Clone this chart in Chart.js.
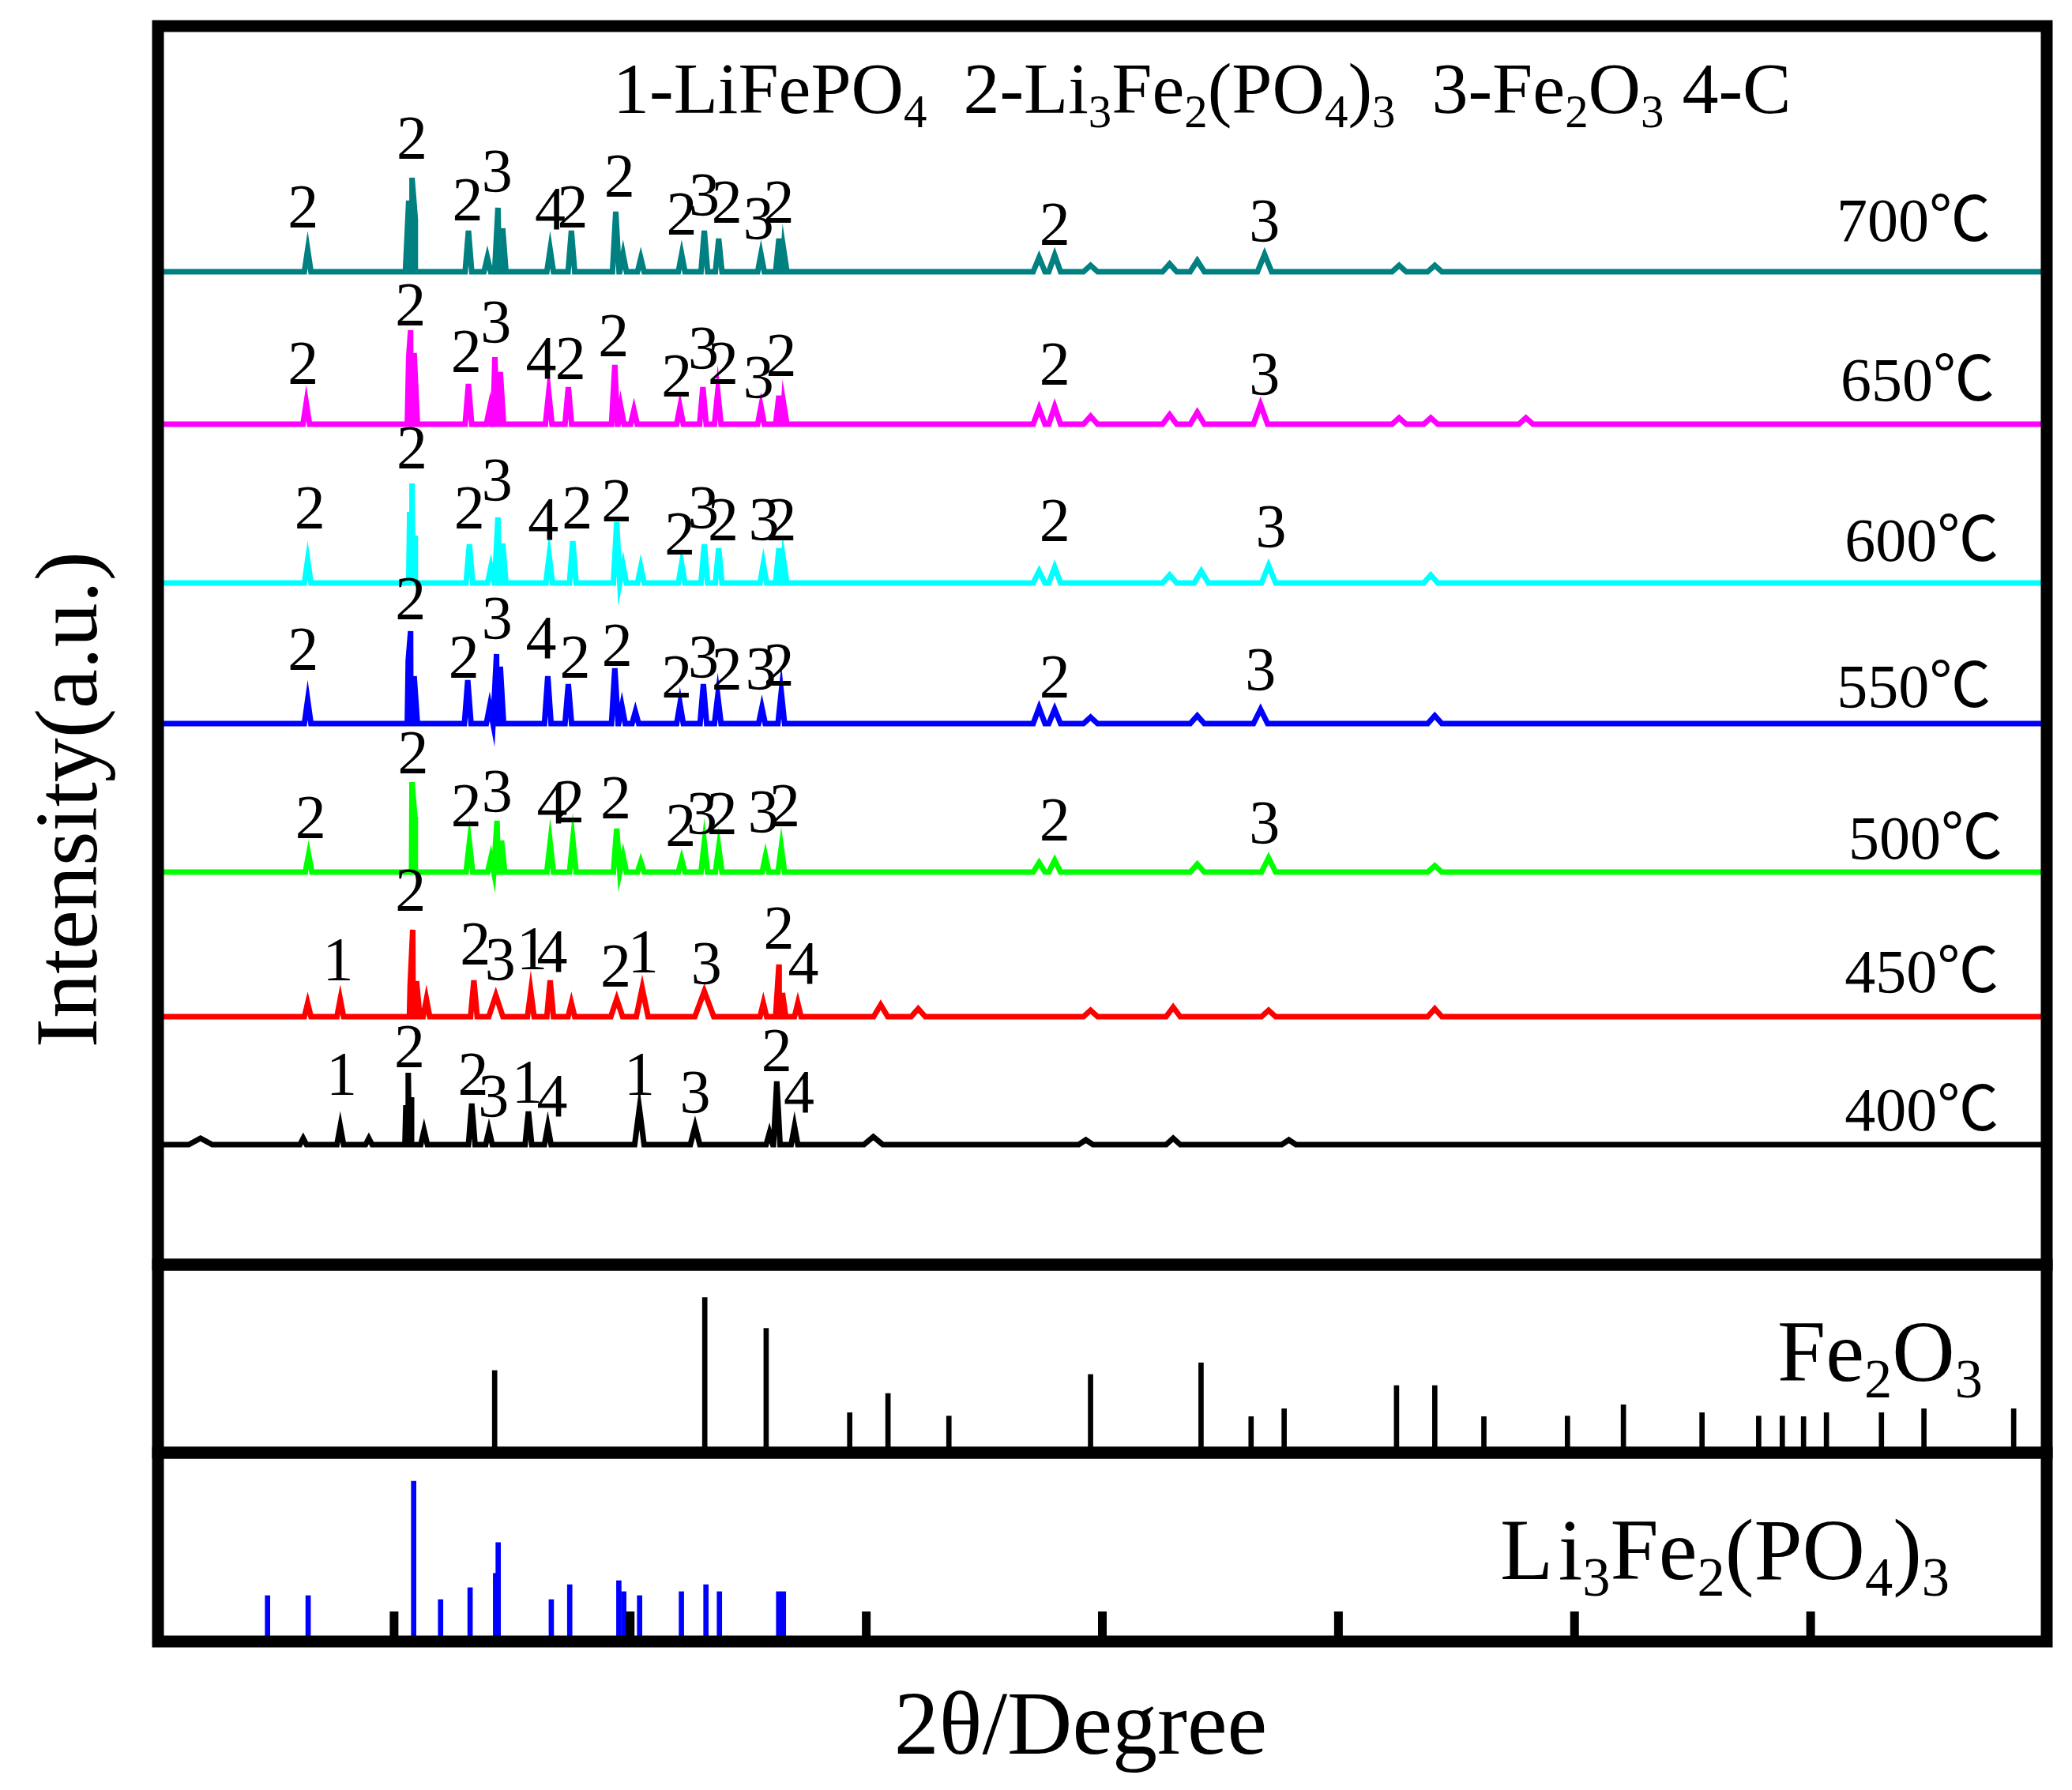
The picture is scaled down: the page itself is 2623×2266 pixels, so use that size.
<!DOCTYPE html>
<html>
<head>
<meta charset="utf-8">
<script src="https://cdn.jsdelivr.net/npm/chart.js@4.4.1/dist/chart.umd.min.js"></script>
<style>
  html, body { margin: 0; padding: 0; background: #fff; }
  body { width: 2623px; height: 2266px; position: relative; overflow: hidden; font-family: "Liberation Serif", "Times New Roman", serif; color: #000; }
  canvas { position: absolute; left: 192px; }
  .txt { position: absolute; white-space: nowrap; line-height: 1; }
  .s { font-size: 0.64em; position: relative; top: 0.3em; }
</style>
</head>
<body>
<canvas id="mainChart" width="2407" height="1584" style="top:25px"></canvas>
<canvas id="fe2o3Chart" width="2407" height="254" style="top:1593px"></canvas>
<canvas id="lfpChart" width="2407" height="255" style="top:1831px"></canvas>

<div class="txt" id="legendTitle" style="left:776px; top:66px; font-size:92px;">1-LiFePO<span class="s">4</span>&nbsp; 2-Li<span class="s">3</span>Fe<span class="s">2</span>(PO<span class="s">4</span>)<span class="s">3</span>&nbsp; 3-Fe<span class="s">2</span>O<span class="s">3</span> 4-C</div>
<div class="txt" style="left:2250px; top:1656px; font-size:110px;">Fe<span class="s">2</span>O<span class="s">3</span></div>
<div class="txt" style="left:1899px; top:1907px; font-size:110px;"><span style="letter-spacing:0.06em">L</span>i<span class="s">3</span>Fe<span class="s">2</span>(PO<span class="s">4</span>)<span class="s">3</span></div>
<div class="txt" style="left:1068px; top:2125px; width:600px; text-align:center; font-size:114px;">2θ/Degree</div>
<div class="txt" style="left:-267px; top:957px; width:700px; height:110px; text-align:center; font-size:112px; transform:rotate(-90deg); transform-origin:50% 50%;">Intensity(a.u.)</div>

<script>
/* ── Data: 2θ range and tick marks ── */
const twoThetaMin = 10;
const twoThetaMax = 90;
const xTicks = [20, 30, 40, 50, 60, 70, 80];

/* ── Measured patterns: baseline level, then [2θ, peak height, half width] ── */
const temps     = ['700℃', '650℃', '600℃', '550℃', '500℃', '450℃', '400℃'];
const baselines = [1257, 1064, 863, 685, 497, 314, 152];

const peaks700 = [[16.34,28],[20.62,90],[20.76,119],[20.9,66],[23.15,52],[23.95,18],[24.4,81],[24.6,55],[26.61,28],[27.51,52],
  [29.39,76],[29.7,22],[30.45,17],[32.18,22],[33.14,52],[33.75,42],[35.54,22],[36.3,42],[36.5,28],
  [47.32,18,0.25],[47.98,21,0.25],[49.5,8,0.3],[52.85,10,0.3],[54.02,14,0.3],[56.87,22,0.3],[62.57,8,0.3],[64.08,8,0.3]];
const peaks650 = [[16.28,27],[20.62,85],[20.7,119],[20.85,90],[23.15,51],[24.05,20],[24.27,85],[24.5,66],[26.55,40],[27.38,47],
  [29.35,75],[29.6,22],[30.16,18],[32.11,22],[33.08,47],[33.71,41],[35.54,22],[36.3,36],[36.5,26],
  [47.32,20,0.25],[47.98,22,0.25],[49.5,10,0.3],[52.85,12,0.3],[54.02,15,0.3],[56.7,25,0.3],[62.57,8,0.3],[63.91,8,0.3],[67.94,8,0.3]];
const peaks600 = [[16.34,29],[20.66,90],[20.76,126],[20.9,60],[23.19,49],[24.1,20],[24.4,83],[24.6,50],[26.57,34],[27.57,53],
  [29.43,77],[29.7,22],[30.45,20],[32.18,24],[33.14,49],[33.75,44],[35.64,24],[36.3,44],[36.5,28],
  [47.32,15,0.25],[47.98,20,0.25],[52.85,10,0.3],[54.19,15,0.3],[57.04,22,0.3],[63.91,10,0.3]];
const peaks550 = [[16.34,30],[20.6,80],[20.7,117],[20.85,60],[23.12,55],[24.05,22],[24.34,88],[24.5,72],[26.51,60],[27.38,50],
  [29.35,70],[29.65,22],[30.22,15],[32.11,25],[33.1,50],[33.71,35],[35.58,20],[36.4,40],
  [47.32,20,0.25],[47.98,18,0.25],[49.5,8,0.3],[54.02,10,0.3],[56.7,18,0.3],[64.08,10,0.3]];
const peaks500 = [[16.38,22],[20.76,114],[20.88,70],[23.19,37],[24.1,18],[24.36,65],[24.55,40],[26.61,37],[27.57,41],
  [29.43,55],[29.7,20],[30.45,13],[32.18,16],[33.14,37],[33.75,31],[35.73,20],[36.4,31],
  [47.32,12,0.25],[47.98,15,0.25],[54.02,10,0.3],[57.04,18,0.3],[64.08,8,0.3]];
const peaks450 = [[16.34,17],[17.72,22],[20.68,40],[20.79,110],[20.95,45],[21.37,22],[23.38,46],[24.31,27,0.3],[25.79,32],[26.61,46],
  [27.51,17],[29.43,22,0.25],[30.51,36,0.25],[33.14,32,0.4],[35.64,17],[36.3,66],[36.45,30],[37.1,17],
  [40.61,15,0.3],[42.2,10,0.3],[49.5,8,0.3],[53.0,12,0.3],[57.04,8,0.3],[64.08,10,0.3]];
const peaks400 = [[11.8,8,0.5],[16.15,8],[17.72,23],[18.93,8],[20.5,50],[20.6,91],[20.72,60],[21.27,18],[23.29,52],[24.02,18],
  [25.69,42],[26.51,23],[30.39,46,0.2],[32.75,23,0.2],[35.9,15],[36.21,80],[36.96,23],
  [40.3,10,0.4],[49.3,6,0.3],[53.0,8,0.3],[57.9,6,0.3]];
const tracePeaks = [peaks700, peaks650, peaks600, peaks550, peaks500, peaks450, peaks400];

/* ── Peak phase labels: [2θ, phase number, label level] ── */
const labels700 = [[16.15,'2',1314],[20.76,'2',1401],[23.12,'2',1323],[24.36,'3',1359],[26.61,'4',1311],[27.57,'2',1314],
  [29.55,'2',1353],[32.18,'2',1305],[33.14,'3',1329],[34.1,'2',1320],[35.44,'3',1299],[36.3,'2',1320],[47.98,'2',1292],[56.87,'3',1296]];
const labels650 = [[16.15,'2',1116],[20.7,'2',1190],[23.06,'2',1131],[24.31,'3',1168],[26.23,'4',1122],[27.47,'2',1122],
  [29.3,'2',1151],[31.97,'2',1100],[33.1,'3',1135],[33.94,'2',1116],[35.44,'3',1098],[36.4,'2',1126],[47.98,'2',1115],[56.87,'3',1102]];
const labels600 = [[16.43,'2',933],[20.76,'2',1009],[23.19,'2',933],[24.36,'3',968],[26.32,'4',918],[27.76,'2',933],
  [29.43,'2',942],[32.11,'2',900],[33.1,'3',933],[33.94,'2',918],[35.67,'3',918],[36.4,'2',918],[47.98,'2',917],[57.14,'3',909]];
const labels550 = [[16.15,'2',754],[20.7,'2',818],[22.96,'2',744],[24.36,'3',793],[26.23,'4',768],[27.67,'2',744],
  [29.45,'2',759],[31.97,'2',719],[33.1,'3',744],[34.1,'2',729],[35.54,'3',729],[36.3,'2',734],[47.98,'2',719],[56.7,'3',728]];
const labels500 = [[16.47,'2',541],[20.81,'2',623],[23.06,'2',556],[24.36,'3',574],[26.7,'4',559],[27.42,'2',561],
  [29.39,'2',566],[32.14,'2',531],[33.04,'3',546],[33.9,'2',546],[35.64,'3',548],[36.55,'2',556],[47.98,'2',538],[56.87,'3',534]];
const labels450 = [[17.63,'1',361],[20.7,'2',449],[23.44,'2',381],[24.5,'3',361],[25.84,'1',375],[26.7,'4',371],
  [29.39,'2',353],[30.55,'1',371],[33.23,'3',356],[36.3,'2',401],[37.34,'4',356]];
const labels400 = [[17.78,'1',216],[20.66,'2',251],[23.35,'2',216],[24.21,'3',188],[25.63,'1',206],[26.7,'4',188],
  [30.39,'1',216],[32.75,'3',193],[36.21,'2',246],[37.15,'4',193]];
const peakLabels = [labels700, labels650, labels600, labels550, labels500, labels450, labels400];

/* ── Temperature tag anchors: [2θ, level] ── */
const tempTagPos = [[81.1,1296],[81.27,1094],[81.44,891],[81.11,706],[81.6,514],[81.44,345],[81.44,170]];

/* ── Reference sticks: [2θ, relative intensity] ── */
const fe2o3Sticks = [[24.26,43.7],[33.16,82.5],[35.76,66.1],[39.3,21.3],[40.92,31.5],[43.5,19.5],[49.5,41.6],[54.18,47.8],
  [56.3,19.2],[57.7,23.4],[62.46,35.7],[64.08,35.7],[66.16,19.2],[69.7,19.5],[72.07,25.5],[75.4,21.3],[77.8,19.5],
  [78.8,19.5],[79.7,19.2],[80.67,21.3],[83.0,21.3],[84.8,23.4],[88.6,23.4]];
const lfpSticks = [[14.64,24.3],[16.36,24.3],[20.83,84.9],[21.97,22.2],[23.22,28.5],[24.3,36.1],[24.41,52.4],[26.66,22.2],
  [27.44,30.1],[29.52,32.2],[29.73,26.4],[30.4,24.3],[32.17,26.4],[33.21,30.1],[33.78,26.4],[36.29,26.4],[36.49,26.4]];

/* ── Styles ── */
const traceColors = ['#008080', '#ff00ff', '#00ffff', '#0000ff', '#00ff00', '#ff0000', '#000000'];
const SERIF = '"Liberation Serif", "Times New Roman", serif';
const FRAME = 15;

/* ── Helpers ── */
function tracePoints(base, peaks) {
  const pts = [{ x: twoThetaMin, y: base }];
  peaks.forEach(([x, h, w = 0.14]) => {
    pts.push({ x: x - w, y: base }, { x: x, y: base + h }, { x: x + w, y: base });
  });
  pts.push({ x: twoThetaMax, y: base });
  return pts.sort((a, b) => a.x - b.x);
}

function xAxis() {
  return { type: 'linear', min: twoThetaMin, max: twoThetaMax, offset: false, display: false };
}

const framePlugin = {
  id: 'frame',
  afterDatasetsDraw(chart) {
    const { ctx, chartArea: a } = chart;
    ctx.save();
    ctx.strokeStyle = '#000';
    ctx.lineWidth = FRAME;
    ctx.strokeRect(a.left, a.top, a.right - a.left, a.bottom - a.top);
    ctx.restore();
  }
};

const mainTextPlugin = {
  id: 'mainText',
  afterDraw(chart) {
    const { ctx } = chart;
    const x = chart.scales.x, y = chart.scales.y;
    ctx.save();
    ctx.fillStyle = '#000';
    ctx.textBaseline = 'alphabetic';
    ctx.font = '78px ' + SERIF;
    ctx.textAlign = 'center';
    peakLabels.forEach(list => list.forEach(([deg, t, lv]) => {
      ctx.fillText(t, x.getPixelForValue(deg), y.getPixelForValue(lv));
    }));
    ctx.font = '78px "Liberation Serif", "Noto Sans CJK SC", serif';
    ctx.textAlign = 'left';
    temps.forEach((t, i) => {
      const [deg, lv] = tempTagPos[i];
      ctx.fillText(t, x.getPixelForValue(deg), y.getPixelForValue(lv));
    });
    ctx.restore();
  }
};

const tickPlugin = {
  id: 'innerTicks',
  afterDatasetsDraw(chart) {
    const { ctx, chartArea: a } = chart;
    const x = chart.scales.x;
    ctx.save();
    ctx.fillStyle = '#000';
    xTicks.forEach(v => {
      const px = x.getPixelForValue(v);
      ctx.fillRect(px - 5.5, a.bottom - 38, 11, 38);
    });
    ctx.restore();
  }
};

const common = {
  responsive: false,
  animation: false,
  devicePixelRatio: 1,
  layout: { padding: 8 },
  plugins: { legend: { display: false }, tooltip: { enabled: false } },
  events: []
};

/* ── Main XRD patterns ── */
new Chart(document.getElementById('mainChart'), {
  type: 'line',
  data: {
    datasets: tracePeaks.map((p, i) => ({
      label: temps[i],
      data: tracePoints(baselines[i], p),
      borderColor: traceColors[i],
      borderWidth: 7,
      pointRadius: 0,
      tension: 0,
      fill: false
    }))
  },
  options: {
    ...common,
    scales: { x: xAxis(), y: { type: 'linear', min: 0, max: 1568, display: false } }
  },
  plugins: [framePlugin, mainTextPlugin]
});

/* ── Reference: Fe2O3 ── */
new Chart(document.getElementById('fe2o3Chart'), {
  type: 'bar',
  data: {
    datasets: [{
      label: 'Fe2O3',
      data: fe2o3Sticks.map(([x, y]) => ({ x, y })),
      backgroundColor: '#000',
      barThickness: 6
    }]
  },
  options: {
    ...common,
    scales: { x: xAxis(), y: { type: 'linear', min: 0, max: 100, display: false } }
  },
  plugins: [framePlugin]
});

/* ── Reference: Li3Fe2(PO4)3 ── */
new Chart(document.getElementById('lfpChart'), {
  type: 'bar',
  data: {
    datasets: [{
      label: 'Li3Fe2(PO4)3',
      data: lfpSticks.map(([x, y]) => ({ x, y })),
      backgroundColor: '#0000ff',
      barThickness: 6
    }]
  },
  options: {
    ...common,
    scales: { x: xAxis(), y: { type: 'linear', min: 0, max: 100, display: false } }
  },
  plugins: [tickPlugin, framePlugin]
});
</script>
</body>
</html>
